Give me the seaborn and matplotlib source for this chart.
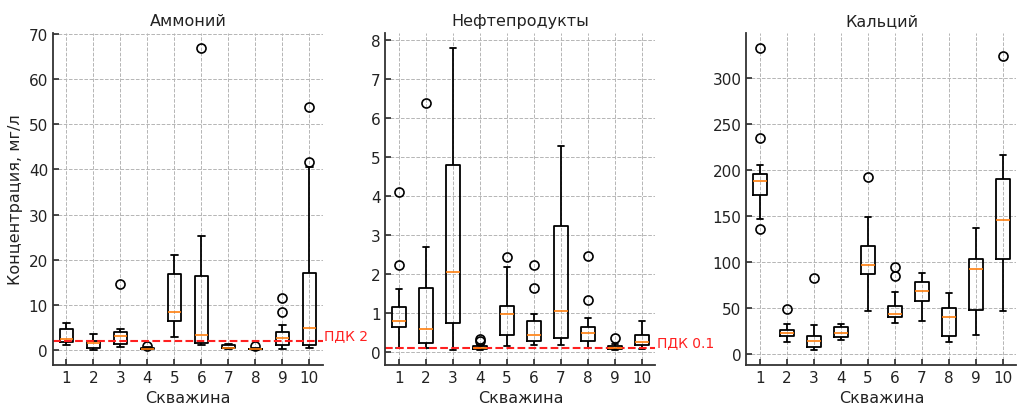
import matplotlib.pyplot as plt
import seaborn as sns
import pandas as pd

wells = [1, 2, 3, 4, 5, 6, 7, 8, 9, 10]

# Lower whisker, Q1, median, Q3, upper whisker, outliers
amm_low = [1.0, 0.0, 0.7, 0.1, 2.8, 1.0, 0.2, 0.0, 0.2, 0.5]
amm_q1 = [1.8, 0.4, 1.3, 0.2, 6.4, 1.5, 0.4, 0.1, 1.1, 1.1]
amm_med = [2.4, 1.6, 3.1, 0.3, 8.5, 3.2, 0.5, 0.2, 2.6, 4.9]
amm_q3 = [4.6, 2.0, 4.0, 0.45, 16.8, 16.4, 1.0, 0.3, 3.9, 17.0]
amm_high = [5.9, 3.6, 4.7, 0.6, 21.0, 25.2, 1.4, 0.5, 5.5, 40.6]
amm_out = [[], [], [14.7], [0.95], [], [66.9], [], [0.9], [8.5, 11.4], [41.6, 53.9]]

oil_low = [0.10, 0.10, 0.06, 0.05, 0.15, 0.18, 0.18, 0.09, 0.05, 0.08]
oil_q1 = [0.65, 0.23, 0.75, 0.07, 0.42, 0.29, 0.36, 0.27, 0.07, 0.17]
oil_med = [0.79, 0.59, 2.04, 0.10, 0.96, 0.42, 1.04, 0.49, 0.10, 0.26]
oil_q3 = [1.15, 1.64, 4.80, 0.14, 1.17, 0.80, 3.22, 0.63, 0.14, 0.43]
oil_high = [1.60, 2.69, 7.79, 0.18, 2.17, 0.97, 5.29, 0.87, 0.20, 0.79]
oil_out = [[2.22, 4.09], [6.38], [], [0.27, 0.33], [2.43], [1.63, 2.24], [],
           [1.32, 2.45], [0.36], []]

ca_low = [147, 13, 4.3, 15.6, 47, 33.7, 35.5, 12.7, 20.7, 47]
ca_q1 = [173, 20, 7.2, 18, 86.6, 40, 57.2, 20, 48.2, 103]
ca_med = [188, 23, 13.8, 22.5, 97, 43.5, 68.8, 39.9, 92.4, 146]
ca_q3 = [196, 26, 20, 29, 118, 52, 78.6, 50, 103, 190]
ca_high = [206, 32, 31.5, 33, 149, 67, 87.7, 66, 137, 217]
ca_out = [[136, 235, 333], [49], [83], [], [193], [85, 95], [], [], [], [324]]

titles = ["Аммоний", "Нефтепродукты", "Кальций"]
pdk_values = [2, 0.1, None]
pdk_labels = ["ПДК 2", "ПДК 0.1", None]


def expand(low, q1, med, q3, high, out):
    # sample whose quartiles and 1.5*IQR whiskers match the read statistics
    lo = sorted(v for v in out if v < q1)
    hi = sorted(v for v in out if v > q3)
    m = max(len(lo), len(hi)) + 1
    return (lo + [low] + [q1] * (m - len(lo)) + [med] * m + [q3] * m
            + [high] * (m - len(hi)) + hi)


def make_frame(low, q1, med, q3, high, out):
    rows = []
    for i, w in enumerate(wells):
        for v in expand(low[i], q1[i], med[i], q3[i], high[i], out[i]):
            rows.append({"well": w, "value": v})
    return pd.DataFrame(rows)


frames = [
    make_frame(amm_low, amm_q1, amm_med, amm_q3, amm_high, amm_out),
    make_frame(oil_low, oil_q1, oil_med, oil_q3, oil_high, oil_out),
    make_frame(ca_low, ca_q1, ca_med, ca_q3, ca_high, ca_out),
]

sns.set_theme(style="whitegrid")
plt.rcParams.update({
    "font.family": ["DejaVu Sans"],
    "axes.edgecolor": "#333333",
    "axes.linewidth": 1.3,
    "grid.color": "#b5b5b5",
    "grid.linestyle": "--",
    "grid.linewidth": 0.7,
    "xtick.direction": "in",
    "ytick.direction": "in",
    "xtick.bottom": True,
    "ytick.left": True,
    "xtick.major.size": 4,
    "ytick.major.size": 4,
    "xtick.color": "#333333",
    "ytick.color": "#333333",
    "xtick.labelcolor": "#222222",
    "ytick.labelcolor": "#222222",
    "xtick.labelsize": 11,
    "ytick.labelsize": 11,
    "axes.labelsize": 11.5,
    "axes.titlesize": 11.5,
    "axes.labelcolor": "#222222",
    "text.color": "#222222",
})

fig = plt.figure(figsize=(10.17, 4.06), dpi=100)
lefts = [0.052, 0.379, 0.734]

for k, df in enumerate(frames):
    ax = fig.add_axes([lefts[k], 0.0985, 0.2655, 0.8177])
    sns.boxplot(
        data=df, x="well", y="value", ax=ax,
        fill=False, color="black", width=0.5, linewidth=1.3,
        medianprops={"color": "#ff7f0e", "linewidth": 1.2},
        flierprops={"marker": "o", "markerfacecolor": "none",
                    "markeredgecolor": "black", "markersize": 6.5,
                    "markeredgewidth": 1.2},
    )
    ax.grid(True, axis="both")
    sns.despine(ax=ax)
    ax.set_title(titles[k])
    ax.set_xlabel("Скважина")
    ax.set_ylabel("Концентрация, мг/л" if k == 0 else "")
    if pdk_values[k] is not None:
        ax.axhline(pdk_values[k], color="#ff2020", linestyle="--", linewidth=1.5)
        ax.annotate(pdk_labels[k], xy=(1, pdk_values[k]),
                    xycoords=ax.get_yaxis_transform(),
                    xytext=(1, 4), textcoords="offset points",
                    va="center", ha="left", color="#ff2020", fontsize=10,
                    annotation_clip=False)

fig.savefig("out.png", dpi=100)
